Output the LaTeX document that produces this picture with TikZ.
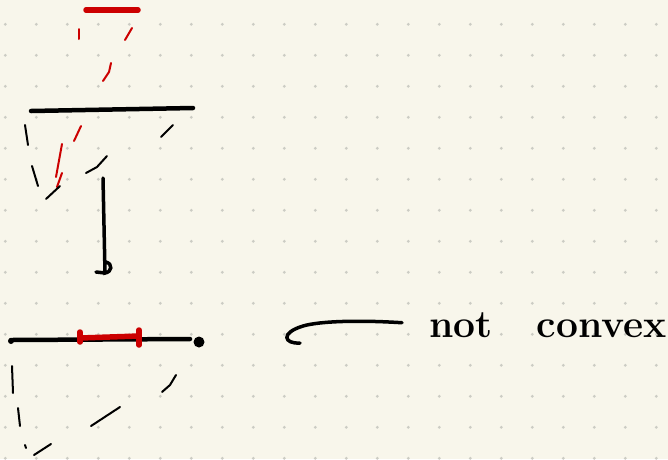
\documentclass[tikz,border=0pt]{standalone}
\usetikzlibrary{positioning}
\definecolor{paper}{RGB}{248,246,235}
\definecolor{griddot}{RGB}{204,204,196}
\definecolor{inkred}{RGB}{204,0,0}
\begin{document}
\begin{tikzpicture}[x=1pt,y=-1pt,
  ink/.style={draw=black,line width=4.5pt,line cap=round},
  redbar/.style={draw=inkred,line width=5.5pt,line cap=round},
  dashink/.style={draw=black,line width=2pt,line cap=round},
  dashred/.style={draw=inkred,line width=2pt,line cap=round},
  note/.style={font=\fontsize{39}{44}\selectfont\bfseries,inner sep=0pt,anchor=base west}
]
\fill[paper] (0,0) rectangle (668,459);
\useasboundingbox (0,0) rectangle (668,459);
\clip (0,0) rectangle (668,459);
\foreach \gx in {0,...,21}
  \foreach \gy in {0,...,14}
    \fill[griddot] (5.3+31*\gx,24.3+31*\gy) circle (1.6pt);
% top sketch
\draw[redbar] (86,10) -- (138,10);
\draw[dashred] (79,29) -- (79,39);
\draw[dashred] (132,28) -- (125,40);
\draw[dashred] (111,63) -- (109,72) -- (103,81);
\draw[ink] (31,111) -- (193,108);
\draw[dashred] (81,126) -- (74,141);
\draw[dashred] (62,144) -- (56,177);
\draw[dashred] (62,173) -- (57,187);
\draw[dashink] (25,125) -- (28,145);
\draw[dashink] (32,166) -- (38,186);
\draw[dashink] (46,199) -- (60,186);
\draw[dashink] (86,173) -- (97,167) -- (107,156);
\draw[dashink] (161,137) -- (173,125);
% arrow down
\coordinate (topmid) at (103,178);
\coordinate (hook) at (105,273);
\draw[line width=3.5pt,line cap=round] (topmid) -- (hook)
  .. controls (112,272) and (113,264) .. (106,262);
\draw[line width=3.5pt,line cap=round] (96,272) -- (hook);
% bottom sketch
\draw[ink] (11,340) -- (190,339);
\fill (11,341) circle (3pt);
\fill (199,342) circle (5.5pt);
\draw[redbar] (80,338) -- (139,336);
\draw[redbar] (80,332) -- (80,342);
\draw[redbar] (139,330) -- (139,345);
\draw[dashink] (12,366) -- (13,393);
\draw[dashink] (18,408) -- (20,426);
\draw[dashink] (25,445) -- (26,448);
\draw[dashink] (34,455) -- (51,444);
\draw[dashink] (91,426) -- (120,407);
\draw[dashink] (162,392) -- (170,385) -- (176,375);
% label
\node[note] (nonconvex) at (429,337) {not\hspace{44pt}convex};
\draw[line width=3.5pt,line cap=round] (nonconvex.west) ++(-27pt,2pt) coordinate (tail)
  .. controls (360,320) and (320,321) .. (303,326)
  .. controls (280,333) and (284,344) .. (300,343);
\end{tikzpicture}
\end{document}
